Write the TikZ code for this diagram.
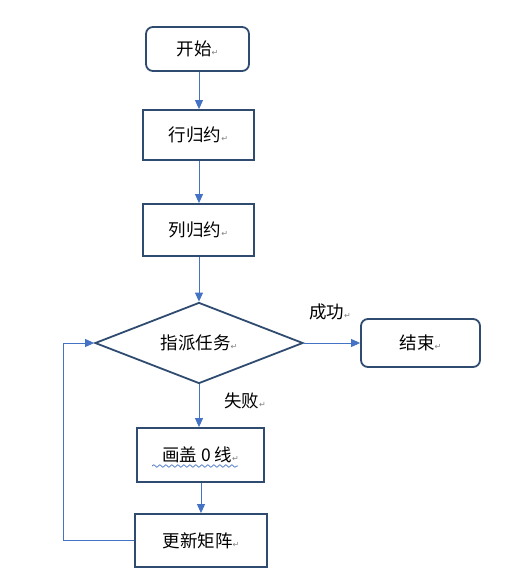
\documentclass[tikz,border=0pt]{standalone}
\usepackage{fontspec}
\setmainfont{Noto Sans CJK SC}
\newfontfamily\symf{DejaVu Sans}
\usetikzlibrary{arrows.meta,shapes.geometric,decorations.pathmorphing}
\definecolor{boxc}{HTML}{2F4B70}
\definecolor{arrc}{HTML}{4472C4}
\newcommand{\rt}{{\symf\fontsize{8}{8}\selectfont\color{gray}↵}}
\newcommand{\tf}{\fontsize{17.5}{17.5}\selectfont}
\tikzset{
  rbox/.style={draw=boxc,line width=1.8pt,rounded corners=7pt,minimum width=#1,minimum height=44pt,inner sep=0pt,font=\tf},
  sbox/.style={draw=boxc,line width=1.8pt,minimum width=#1,minimum height=51pt,inner sep=0pt,font=\tf},
  dbox/.style={draw=boxc,line width=1.8pt,diamond,aspect=2.57,minimum width=208pt,minimum height=81pt,inner sep=0pt,font=\tf},
  conn/.style={draw=arrc,line width=0.9pt,-{Triangle[length=9pt,width=8pt]}},
  lab/.style={font=\tf}
}
\begin{document}
\begin{tikzpicture}[x=1pt,y=-1pt]
\useasboundingbox (0,0) rectangle (510,576);
\node[rbox=103pt] (start) at (197.5,49) {开始\rt};
\node[sbox=111pt,minimum height=50pt] (row) at (198.5,135) {行归约\rt};
\node[sbox=111pt,minimum height=52pt] (col) at (198.5,230) {列归约\rt};
\node[dbox] (assign) at (199,343) {指派任务\rt};
\node[rbox=119pt,minimum height=48pt] (end) at (420.5,343) {结束\rt};
\node[sbox=127pt,minimum height=54pt] (cover) at (200.5,455) {画盖 0 线\rt};
\node[sbox=132pt,minimum height=53pt] (update) at (201,540.5) {更新矩阵\rt};
\node[lab] (succ) at (330,312) {成功\rt};
\node[lab] (fail) at (245,401) {失败\rt};
\coordinate (c1) at (63,540.5);
\coordinate (c2) at (63,343);
\draw[conn] (start.south -| 199,0) -- (row.north -| 199,0);
\draw[conn] (row.south -| 199,0) -- (col.north -| 199,0);
\draw[conn] (col.south -| 199,0) -- (assign.north);
\draw[conn] (assign.east) -- (end.west);
\draw[conn] (assign.south) -- (cover.north -| assign.south);
\draw[conn] (cover.south -| 201,0) -- (update.north -| 201,0);
\draw[conn] (update.west) -- (c1) -- (c2) -- (assign.west);
\draw[draw=arrc,line width=0.7pt,decorate,decoration={snake,amplitude=1.3pt,segment length=6pt}] (152,466) -- (238,466);
\end{tikzpicture}
\end{document}
